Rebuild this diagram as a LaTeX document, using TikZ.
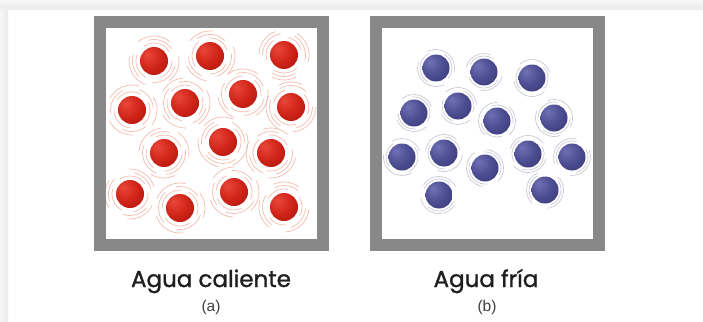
\documentclass[tikz,border=0pt]{standalone}
\usepackage{fontspec}
\newfontfamily\captionfont[FakeBold=1.2]{Poppins}
\newfontfamily\tagfont{Liberation Sans}
\usetikzlibrary{calc}

\definecolor{framegray}{HTML}{888888}
\definecolor{redhi}{HTML}{E8483A}
\definecolor{redmid}{HTML}{D02418}
\definecolor{reddark}{HTML}{9A1008}
\definecolor{bluehi}{HTML}{7070B4}
\definecolor{bluemid}{HTML}{4C4C92}
\definecolor{bluedark}{HTML}{2E2E66}
\definecolor{hotring}{HTML}{F4BCAE}
\definecolor{coldring}{HTML}{CBCBD8}
\definecolor{shadowgray}{HTML}{EAEAEA}

\pgfdeclareradialshading{redsphere}{\pgfpoint{-12bp}{12bp}}{%
  color(0bp)=(redhi); color(22bp)=(redmid); color(52bp)=(reddark); color(80bp)=(reddark)}
\pgfdeclareradialshading{bluesphere}{\pgfpoint{-12bp}{12bp}}{%
  color(0bp)=(bluehi); color(22bp)=(bluemid); color(52bp)=(bluedark); color(80bp)=(bluedark)}

\pgfdeclarelayer{base}
\pgfdeclarelayer{rings}
\pgfsetlayers{base,rings,main}

\tikzset{
  container/.style={draw=framegray, line width=12pt, inner sep=0pt,
    minimum width=223pt, minimum height=223pt},
  hotball/.style={circle, inner sep=0pt, minimum size=28pt, shading=redsphere},
  coldball/.style={circle, inner sep=0pt, minimum size=27pt, shading=bluesphere},
  hotarc/.style={draw=hotring, line width=0.7pt, line cap=round},
  coldarc/.style={draw=coldring, line width=0.7pt, line cap=round},
  caption/.style={font=\captionfont\fontsize{23}{26}\selectfont, text=black!88,
    anchor=base, inner sep=0pt},
  tag/.style={font=\tagfont\fontsize{15.5}{18}\selectfont, text=black!75,
    anchor=base, inner sep=0pt},
}

\begin{document}
\begin{tikzpicture}[x=1pt, y=-1pt]
\useasboundingbox (0,0) rectangle (703,321);

% page with a soft card shadow along the top and left edges
\begin{pgfonlayer}{base}
  \fill[white] (0,0) rectangle (703,321);
  \shade[top color=white!60!shadowgray, bottom color=shadowgray] (0,0) rectangle (703,10);
  \shade[left color=white!60!shadowgray, right color=shadowgray] (0,10) rectangle (8,321);
\end{pgfonlayer}

% the two containers
\node[container] (boxa) at (211.5,133.5) {};
\node[container] (boxb) at (487,133.5) {};

% hot water molecules
\foreach \px/\py [count=\i] in {154/61, 210/56, 284/55, 132/110, 185/103, 243/94,
    291/107, 164/153, 223/142, 271/153, 130/194, 180/208, 234/192, 284/207}
  \node[hotball] (h\i) at (\px,\py) {};

% cold water molecules
\foreach \px/\py [count=\i] in {436/68, 484/72, 532/78, 414/113, 458/106, 497/121,
    554/118, 402/157, 444/153, 485/168, 528/154, 572/157, 439/195, 545/190}
  \node[coldball] (c\i) at (\px,\py) {};

% vibration rings
\pgfmathsetseed{11}
\begin{pgfonlayer}{rings}
  \foreach \i in {1,...,14} {
    \foreach \rad in {18,21.5,25} {
      \pgfmathsetmacro{\startang}{rnd*360}
      \foreach \k in {0,1,2} {
        \pgfmathsetmacro{\a}{\startang+\k*120}
        \pgfmathsetmacro{\len}{55+rnd*40}
        \draw[hotarc] ([shift={(\a:\rad)}]h\i.center) arc[start angle=\a, delta angle=\len, radius=\rad];
      }
    }
    \foreach \rad in {16,18.5} {
      \pgfmathsetmacro{\startang}{rnd*360}
      \foreach \k in {0,1} {
        \pgfmathsetmacro{\a}{\startang+\k*180}
        \pgfmathsetmacro{\len}{80+rnd*60}
        \draw[coldarc] ([shift={(\a:\rad)}]c\i.center) arc[start angle=\a, delta angle=\len, radius=\rad];
      }
    }
  }
\end{pgfonlayer}

% captions
\node[caption] (capa) at (211,287) {Agua caliente};
\node[tag] (taga) at (211,311) {(a)};
\node[caption] (capb) at (486,287) {Agua fría};
\node[tag] (tagb) at (487,311) {(b)};
\end{tikzpicture}
\end{document}
